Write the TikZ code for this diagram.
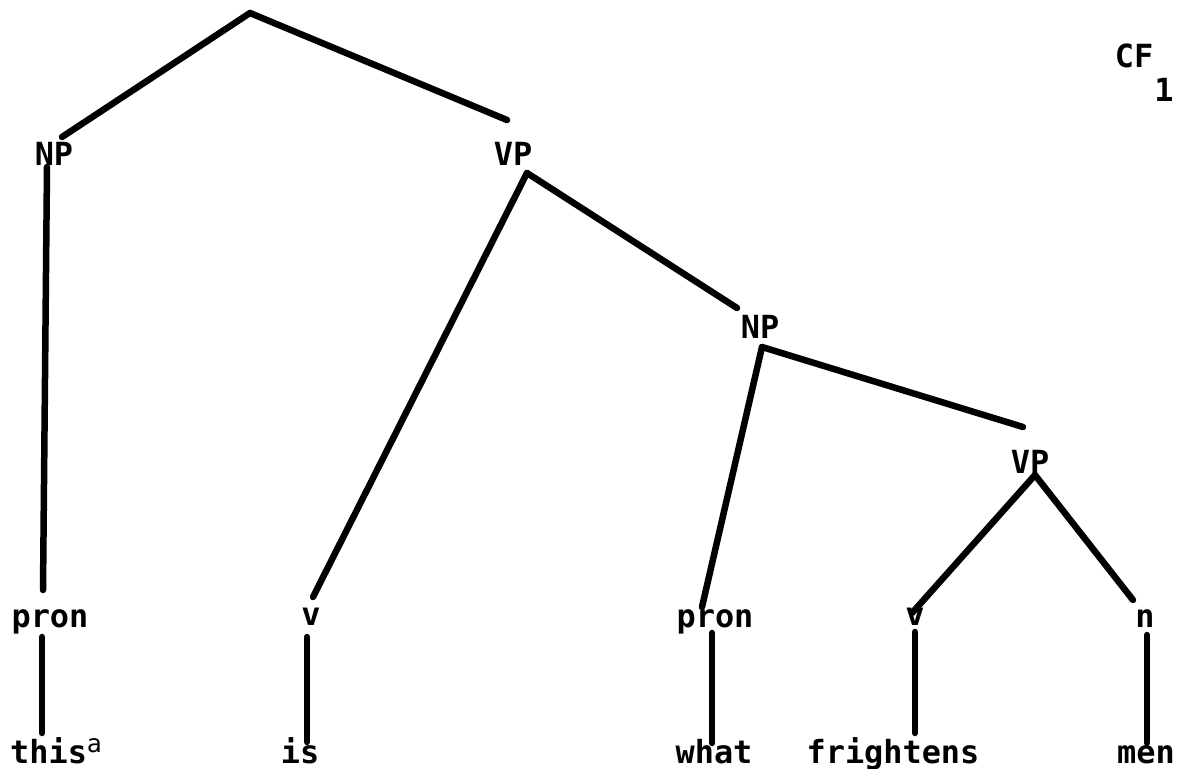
\documentclass[tikz,border=0pt]{standalone}
\usepackage{fontspec}
\setmonofont{DejaVu Sans Mono}
\begin{document}
\begin{tikzpicture}[x=1bp,y=-1bp,
  lbl/.style={font=\ttfamily\bfseries\fontsize{32}{32}\selectfont, inner sep=0pt, anchor=base},
  edge/.style={line width=6.5bp, line cap=round, line join=round}]
\useasboundingbox[fill=white] (0,0) rectangle (1178,769);
% labels
\node[lbl] (np1) at (54,165) {NP};
\node[lbl] (vp1) at (513,165) {VP};
\node[lbl] (np2) at (760,338) {NP};
\node[lbl] (vp2) at (1030,473) {VP};
\node[lbl] (pron1) at (50,627) {pron};
\node[lbl] (v1) at (311,625) {v};
\node[lbl] (pron2) at (715,627) {pron};
\node[lbl] (v2) at (915,625) {v};
\node[lbl] (n) at (1145,627) {n};
\node[lbl, anchor=base west] (this) at (10,763) {this\raisebox{11bp}{\mdseries\fontsize{25}{25}\selectfont a}};
\node[lbl] (is) at (300,763) {is};
\node[lbl] (what) at (714,763) {what};
\node[lbl] (frightens) at (893,763) {frightens};
\node[lbl] (men) at (1146,763) {men};
\node[lbl] (cf) at (1134,68) {CF};
\node[lbl] (one) at (1164,102) {1};
% connector end points
\coordinate (root) at (250,13);
\coordinate (np1t) at (62,137);
\coordinate (vp1t) at (507,120);
\coordinate (np1b) at (47,167);
\coordinate (pron1t) at (43,590);
\coordinate (vp1b) at (527,173);
\coordinate (v1t) at (313,597);
\coordinate (np2t) at (737,308);
\coordinate (np2b) at (762,347);
\coordinate (pron2t) at (702,607);
\coordinate (vp2t) at (1023,427);
\coordinate (vp2b) at (1035,475);
\coordinate (v2t) at (912,613);
\coordinate (nt) at (1133,600);
\coordinate (pron1b) at (42,637);
\coordinate (thist) at (42,733);
\coordinate (v1b) at (307,637);
\coordinate (ist) at (307,742);
\coordinate (pron2b) at (712,633);
\coordinate (whatt) at (712,743);
\coordinate (v2b) at (915,632);
\coordinate (frt) at (915,733);
\coordinate (nb) at (1147,635);
\coordinate (ment) at (1147,743);
% connectors
\draw[edge] (root) -- (np1t);
\draw[edge] (root) -- (vp1t);
\draw[edge] (np1b) -- (pron1t);
\draw[edge] (vp1b) -- (v1t);
\draw[edge] (vp1b) -- (np2t);
\draw[edge] (np2b) -- (pron2t);
\draw[edge] (np2b) -- (vp2t);
\draw[edge] (vp2b) -- (v2t);
\draw[edge] (vp2b) -- (nt);
\draw[edge] (pron1b) -- (thist);
\draw[edge] (v1b) -- (ist);
\draw[edge] (pron2b) -- (whatt);
\draw[edge] (v2b) -- (frt);
\draw[edge] (nb) -- (ment);
\end{tikzpicture}
\end{document}
